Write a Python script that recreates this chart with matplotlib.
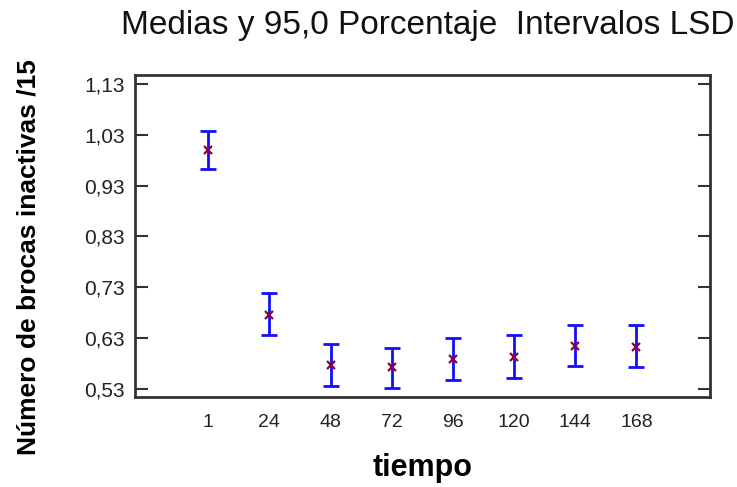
import numpy as np
import matplotlib
matplotlib.use("Agg")
import matplotlib.pyplot as plt

plt.rcParams['font.family'] = ['Liberation Sans', 'DejaVu Sans']

# tiempo (horas) and LSD intervals
tiempo = ["1", "24", "48", "72", "96", "120", "144", "168"]
medias = [1.000, 0.676, 0.576, 0.572, 0.588, 0.593, 0.615, 0.612]
inferior = [0.963, 0.635, 0.535, 0.532, 0.548, 0.552, 0.575, 0.572]
superior = [1.037, 0.718, 0.619, 0.611, 0.630, 0.635, 0.655, 0.655]
yticks = [0.53, 0.63, 0.73, 0.83, 0.93, 1.03, 1.13]

x = np.arange(len(tiempo))
medias = np.array(medias)
err = [medias - np.array(inferior), np.array(superior) - medias]

fig = plt.figure(figsize=(7.37, 4.87), dpi=100)
ax = fig.add_axes([0.183, 0.185, 0.780, 0.661])

ax.errorbar(x, medias, yerr=err, fmt='none', ecolor='#1010ff',
            elinewidth=2, capsize=6, capthick=2)
ax.plot(x, medias, 'x', color='#8b0040', markersize=6, mew=1.6)

ax.set_xlim(-1.2, 8.2)
ax.set_ylim(0.514, 1.148)
ax.set_xticks(x)
ax.set_xticklabels(tiempo)
ax.set_yticks(yticks)
ax.set_yticklabels([f"{v:.2f}".replace('.', ',') for v in yticks])

ax.tick_params(axis='y', direction='in', length=9, width=1.5, right=True,
               labelsize=15, colors='#333333', labelcolor='#222222', pad=7)
ax.tick_params(axis='x', length=0, labelsize=14, labelcolor='#222222', pad=12)
for s in ax.spines.values():
    s.set_linewidth(2)
    s.set_color('#333333')

fig.text(0.58, 0.948, "Medias y 95,0 Porcentaje  Intervalos LSD",
         fontsize=24, ha='center', va='center', color='#111111')
ax.set_xlabel("tiempo", fontsize=22, fontweight='bold', labelpad=16)
fig.text(0.038, 0.472, "Número de brocas inactivas /15", fontsize=19,
         fontweight='bold', rotation=90, ha='center', va='center')

fig.savefig("out.png", dpi=100)
